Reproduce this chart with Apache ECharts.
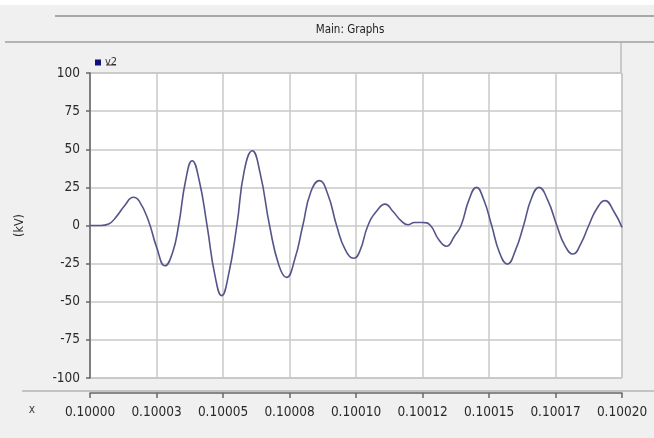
<!DOCTYPE html>
<html>
<head>
<meta charset="utf-8">
<script src="https://cdn.jsdelivr.net/npm/echarts@6/dist/echarts.min.js"></script>
<style>
html,body{margin:0;padding:0;background:#f0f0f0;}
#c{width:654px;height:438px;}
</style>
</head>
<body>
<div id="c"></div>
<script>
// time offset in microseconds from 0.10000 s
var timeUs = [0, 4, 7, 10, 13, 16.3, 18.5, 22, 25, 28.2, 31, 33.3, 36, 38.4, 41, 44, 47, 49.5, 52, 55.2, 58, 61, 64, 67.5, 71, 73.9, 77, 80, 83, 86.2, 89.5, 92.7, 96, 99.2, 101.5, 104.5, 108, 110.9, 114, 117, 119.5, 122, 125, 128, 131, 134, 137, 139.5, 142.5, 145.3, 148, 151, 154, 156.9, 160, 163, 166, 168.8, 172, 175.5, 178.5, 181.6, 184.5, 187.5, 190.5, 193.6, 197, 200];
var v2 = [0, 0, 1, 6, 13, 18.5, 16, 3, -14, -26.4, -18, 0, 30, 42.5, 30, 0, -33, -46, -33, 0, 36, 49, 34, 0, -26, -34, -22, 0, 22, 29.4, 20, 0, -16, -21.5, -16.5, 0, 10, 14, 9, 3, 0.5, 2, 2, 0, -9, -13.6, -7, 0, 17, 25, 17, 0, -18, -25.3, -16, 0, 18, 25, 17, 0, -13, -18.7, -12, 0, 11, 16.3, 9, -1.2];
var xTickLabels = ["0.10000","0.10003","0.10005","0.10008","0.10010","0.10012","0.10015","0.10017","0.10020"];
var seriesName = "v2";
var titleText = "Main: Graphs";
var yName = "(kV)";

var FONT = "'DejaVu Sans Condensed','Liberation Sans Narrow',sans-serif";
var chart = echarts.init(document.getElementById('c'), null, {renderer:'canvas'});
var data = timeUs.map(function(t,i){return [t, v2[i]];});
chart.setOption({
  backgroundColor:'#f0f0f0',
  animation:false,
  grid:{left:90,right:32,top:73,bottom:60,show:true,backgroundColor:'#ffffff',borderColor:'#a8a8a8',borderWidth:1},
  legend:{
    show:true,left:90,top:52,icon:'rect',itemWidth:6,itemHeight:6,itemGap:4,
    data:[{name:seriesName,itemStyle:{color:'#10107a'}}],
    textStyle:{fontFamily:FONT,fontSize:11,color:'#333',padding:[0,0,0,-1]}
  },
  xAxis:{
    type:'value',min:0,max:200,interval:25,offset:15,position:'bottom',
    axisLine:{show:true,onZero:false,lineStyle:{color:'#666',width:1.5}},
    axisTick:{show:true,length:5,lineStyle:{color:'#666',width:1.5}},
    axisLabel:{margin:12,fontFamily:FONT,fontSize:13.5,color:'#2a2a2a',
      formatter:function(v){return xTickLabels[Math.round(v/25)];}},
    splitLine:{show:true,lineStyle:{color:'#c8c8c8',width:1.5}}
  },
  yAxis:{
    type:'value',min:-100,max:100,interval:25,position:'left',
    name:yName,nameLocation:'middle',nameGap:64,nameRotate:90,
    nameTextStyle:{fontFamily:FONT,fontSize:12.5,color:'#2a2a2a'},
    axisLine:{show:true,onZero:false,lineStyle:{color:'#666',width:1.5}},
    axisTick:{show:true,length:4,lineStyle:{color:'#666',width:1.5}},
    axisLabel:{margin:10,fontFamily:FONT,fontSize:13.5,color:'#2a2a2a'},
    splitLine:{show:true,lineStyle:{color:'#c8c8c8',width:1.5}}
  },
  series:[{
    name:seriesName,type:'line',data:data,smooth:0.5,symbol:'none',
    lineStyle:{color:'#55558a',width:1.6},itemStyle:{color:'#55558a'}
  }],
  graphic:[
    {type:'rect',shape:{x:0,y:0,width:654,height:5},style:{fill:'#ffffff'},silent:true},
    {type:'line',shape:{x1:55,y1:16,x2:654,y2:16},style:{stroke:'#a8a8a8',lineWidth:2}},
    {type:'line',shape:{x1:5,y1:42,x2:654,y2:42},style:{stroke:'#b4b4b4',lineWidth:2}},
    {type:'line',shape:{x1:621,y1:43,x2:621,y2:73},style:{stroke:'#bcbcbc',lineWidth:1.5}},
    {type:'line',shape:{x1:22,y1:391,x2:654,y2:391},style:{stroke:'#b4b4b4',lineWidth:1.5}},
    {type:'text',x:350,y:30,style:{text:titleText,fontFamily:FONT,fontSize:11.5,fill:'#222',align:'center',verticalAlign:'middle'}},
    {type:'text',x:32,y:410,style:{text:'x',fontFamily:FONT,fontSize:12,fill:'#444',align:'center',verticalAlign:'middle'}},
    {type:'line',shape:{x1:106,y1:65,x2:116,y2:65},style:{stroke:'#333',lineWidth:1}}
  ]
});
</script>
</body>
</html>
